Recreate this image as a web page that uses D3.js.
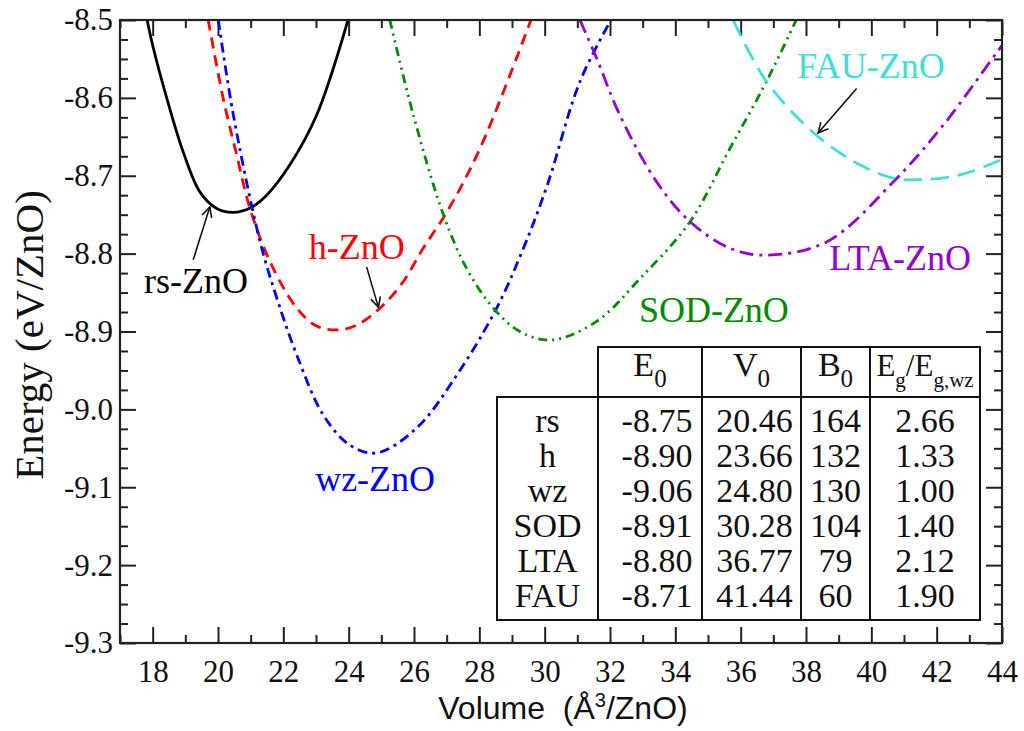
<!DOCTYPE html>
<html>
<head>
<meta charset="utf-8">
<script src="https://cdn.jsdelivr.net/npm/d3@7/dist/d3.min.js"></script>
<style>
  html, body { margin: 0; padding: 0; background: #fff; }
  svg { display: block; }
  text { font-family: "Liberation Serif", "Times New Roman", serif; }
</style>
</head>
<body>
<svg id="chart" width="1024" height="731"></svg>
<script>
// ---------- data ----------
const xTickValues = [18, 20, 22, 24, 26, 28, 30, 32, 34, 36, 38, 40, 42, 44];
const yTickValues = [-8.5, -8.6, -8.7, -8.8, -8.9, -9.0, -9.1, -9.2, -9.3];

// [Volume (Å^3/ZnO), Energy (eV/ZnO)]
const rsPoints = [[17.83,-8.50],[18.02,-8.536],[18.43,-8.600],[18.94,-8.670],[19.45,-8.721],[19.96,-8.742],[20.46,-8.747],[21.00,-8.741],[21.49,-8.725],[22.20,-8.686],[23.02,-8.622],[23.98,-8.50]];
const hPoints  = [[19.70,-8.50],[20.16,-8.601],[20.57,-8.673],[20.98,-8.742],[21.59,-8.810],[22.41,-8.870],[23.02,-8.893],[23.66,-8.898],[24.24,-8.892],[24.96,-8.870],[25.67,-8.836],[26.28,-8.793],[27.00,-8.747],[28.02,-8.665],[29.58,-8.50]];
const wzPoints = [[20.01,-8.50],[20.47,-8.622],[21.29,-8.785],[21.80,-8.857],[22.41,-8.930],[23.22,-9.007],[24.04,-9.046],[24.85,-9.056],[26.08,-9.024],[27.31,-8.956],[28.53,-8.870],[29.35,-8.793],[30.08,-8.712],[31.08,-8.579],[32.03,-8.50]];
const sodPoints = [[25.26,-8.50],[25.98,-8.622],[26.90,-8.750],[27.61,-8.819],[28.43,-8.870],[29.24,-8.900],[30.20,-8.911],[31.59,-8.887],[32.92,-8.832],[34.45,-8.759],[35.67,-8.665],[36.79,-8.579],[37.70,-8.50]];
const ltaPoints = [[31.08,-8.50],[31.59,-8.549],[32.30,-8.622],[33.43,-8.708],[34.45,-8.759],[35.67,-8.793],[36.77,-8.802],[38.63,-8.785],[40.67,-8.708],[42.20,-8.635],[43.94,-8.536],[44.00,-8.533]];
const fauPoints = [[35.77,-8.50],[36.79,-8.579],[38.32,-8.648],[39.65,-8.686],[40.67,-8.703],[41.49,-8.705],[42.71,-8.699],[43.83,-8.682],[44.00,-8.679]];

const seriesNames = ["rs-ZnO", "h-ZnO", "wz-ZnO", "SOD-ZnO", "LTA-ZnO", "FAU-ZnO"];
const seriesPoints = [rsPoints, hPoints, wzPoints, sodPoints, ltaPoints, fauPoints];
const seriesColors = ["#000000", "#ff0000", "#0000ff", "#008b00", "#9400d3", "#40e0d0"];
const seriesDash = ["none", "11,7", "10,5,3,5", "9,5,2,5,2,5", "14,6,3,6", "18,9"];
// label anchor positions (data coords)
const labelPos = [[19.33,-8.851],[24.25,-8.807],[24.81,-9.105],[35.18,-8.888],[40.88,-8.821],[39.99,-8.574]];
// arrows: [tailV, tailE, headV, headE]
const arrows = [[19.24,-8.808,19.75,-8.740],[24.55,-8.817,24.91,-8.869],[39.55,-8.588,38.37,-8.645]];

// table
const tableRows = ["rs", "h", "wz", "SOD", "LTA", "FAU"];
const tableE0 = ["-8.75", "-8.90", "-9.06", "-8.91", "-8.80", "-8.71"];
const tableV0 = ["20.46", "23.66", "24.80", "30.28", "36.77", "41.44"];
const tableB0 = ["164", "132", "130", "104", "79", "60"];
const tableEg = ["2.66", "1.33", "1.00", "1.40", "2.12", "1.90"];

// ---------- layout ----------
const svg = d3.select("#chart");
const plot = { left: 120, right: 1002, top: 20, bottom: 643 };
const x = d3.scaleLinear().domain([17, 44]).range([plot.left, plot.right]);
const y = d3.scaleLinear().domain([-9.3, -8.5]).range([plot.bottom, plot.top]);

svg.append("defs").append("clipPath").attr("id", "clip")
  .append("rect").attr("x", plot.left).attr("y", plot.top)
  .attr("width", plot.right - plot.left).attr("height", plot.bottom - plot.top);

const axisColor = "#222";
const majorLen = 16, minorLen = 8;
const xMinor = d3.range(17, 44.01, 1).filter(v => v % 2 !== 0);
const yMinor = d3.range(0, 33).map(i => -9.3 + i * 0.025).filter((v, i) => i % 4 !== 0);
const fmtY = d => d.toFixed(1);

function styleAxis(g) {
  g.select(".domain").remove();
  g.selectAll(".tick line").attr("stroke", axisColor).attr("stroke-width", 2);
  g.selectAll(".tick text").attr("fill", "#111").style("font-family", '"Liberation Serif", serif').style("font-size", "31px");
}

// bottom
svg.append("g").attr("transform", `translate(0,${plot.bottom})`)
  .call(d3.axisBottom(x).tickValues(xTickValues).tickSize(-majorLen).tickPadding(9).tickFormat(d3.format("d")))
  .call(styleAxis).selectAll(".tick text").attr("dy", "0.97em");
svg.append("g").attr("transform", `translate(0,${plot.bottom})`)
  .call(d3.axisBottom(x).tickValues(xMinor).tickSize(-minorLen).tickFormat(""))
  .call(styleAxis);
// top
svg.append("g").attr("transform", `translate(0,${plot.top})`)
  .call(d3.axisTop(x).tickValues(xTickValues).tickSize(-majorLen).tickFormat(""))
  .call(styleAxis);
svg.append("g").attr("transform", `translate(0,${plot.top})`)
  .call(d3.axisTop(x).tickValues(xMinor).tickSize(-minorLen).tickFormat(""))
  .call(styleAxis);
// left
svg.append("g").attr("transform", `translate(${plot.left},0)`)
  .call(d3.axisLeft(y).tickValues(yTickValues).tickSize(-majorLen).tickPadding(7).tickFormat(fmtY))
  .call(styleAxis);
svg.append("g").attr("transform", `translate(${plot.left},0)`)
  .call(d3.axisLeft(y).tickValues(yMinor).tickSize(-minorLen).tickFormat(""))
  .call(styleAxis);
// right
svg.append("g").attr("transform", `translate(${plot.right},0)`)
  .call(d3.axisRight(y).tickValues(yTickValues).tickSize(-majorLen).tickFormat(""))
  .call(styleAxis);
svg.append("g").attr("transform", `translate(${plot.right},0)`)
  .call(d3.axisRight(y).tickValues(yMinor).tickSize(-minorLen).tickFormat(""))
  .call(styleAxis);

// curves
const line = d3.line().x(d => x(d[0])).y(d => y(d[1])).curve(d3.curveCatmullRom.alpha(0.5));
const curves = svg.append("g").attr("clip-path", "url(#clip)");
seriesPoints.forEach((pts, i) => {
  curves.append("path").datum(pts)
    .attr("d", line)
    .attr("fill", "none")
    .attr("stroke", seriesColors[i])
    .attr("stroke-width", 2.8)
    .attr("stroke-dasharray", seriesDash[i]);
});

// frame
svg.append("rect").attr("x", plot.left).attr("y", plot.top)
  .attr("width", plot.right - plot.left).attr("height", plot.bottom - plot.top)
  .attr("fill", "none").attr("stroke", axisColor).attr("stroke-width", 2.2);

// arrows
svg.select("defs").append("marker").attr("id", "arrowhead")
  .attr("viewBox", "0 0 12 12").attr("refX", 11).attr("refY", 6)
  .attr("markerWidth", 12).attr("markerHeight", 12).attr("markerUnits", "userSpaceOnUse")
  .attr("orient", "auto")
  .append("path").attr("d", "M1,1 L11,6 L1,11").attr("fill", "none").attr("stroke", "#111").attr("stroke-width", 1.6);
arrows.forEach(a => {
  svg.append("line")
    .attr("x1", x(a[0])).attr("y1", y(a[1])).attr("x2", x(a[2])).attr("y2", y(a[3]))
    .attr("stroke", "#111").attr("stroke-width", 1.6).attr("marker-end", "url(#arrowhead)");
});

// curve labels
seriesNames.forEach((name, i) => {
  svg.append("text").attr("x", x(labelPos[i][0])).attr("y", y(labelPos[i][1]))
    .attr("text-anchor", "middle").attr("fill", seriesColors[i])
    .style("font-size", "36px").text(name);
});

// table
const colEdges = [497, 598, 702, 801, 870, 980];
const tTop = 347, tHead = 397, tBottom = 620;
const tg = svg.append("g");
function tline(x1, y1, x2, y2) {
  tg.append("line").attr("x1", x1).attr("y1", y1).attr("x2", x2).attr("y2", y2)
    .attr("stroke", "#111").attr("stroke-width", 2).attr("stroke-linecap", "square");
}
tg.append("rect").attr("x", colEdges[0]).attr("y", tHead).attr("width", colEdges[5] - colEdges[0]).attr("height", tBottom - tHead).attr("fill", "#fff");
tg.append("rect").attr("x", colEdges[1]).attr("y", tTop).attr("width", colEdges[5] - colEdges[1]).attr("height", tHead - tTop).attr("fill", "#fff");
tline(colEdges[1], tTop, colEdges[5], tTop);
tline(colEdges[0], tHead, colEdges[5], tHead);
tline(colEdges[0], tBottom, colEdges[5], tBottom);
tline(colEdges[0], tHead, colEdges[0], tBottom);
for (let c = 1; c < 6; c++) tline(colEdges[c], tTop, colEdges[c], tBottom);

const rowBase0 = 432, rowPitch = 35;
const tableCols = [tableRows, tableE0, tableV0, tableB0, tableEg];
const colShift = [0, 7, 3, 0, 0];
tableCols.forEach((col, c) => {
  const cx = (colEdges[c] + colEdges[c + 1]) / 2 + colShift[c];
  col.forEach((v, r) => {
    tg.append("text").attr("x", cx).attr("y", rowBase0 + r * rowPitch)
      .attr("text-anchor", "middle").attr("fill", "#111").style("font-size", "34px").text(v);
  });
});
// header
const headers = [["E", "0", "", ""], ["V", "0", "", ""], ["B", "0", "", ""], ["E", "g", "/E", "g,wz"]];
headers.forEach((h, i) => {
  const cx = (colEdges[i + 1] + colEdges[i + 2]) / 2;
  const t = tg.append("text").attr("x", cx).attr("y", 376).attr("text-anchor", "middle")
    .attr("fill", "#111").style("font-size", i === 3 ? "31px" : "34px");
  t.append("tspan").text(h[0]);
  t.append("tspan").attr("dy", 11).style("font-size", i === 3 ? "21px" : "25px").text(h[1]);
  if (h[2]) {
    t.append("tspan").attr("dy", -11).text(h[2]);
    t.append("tspan").attr("dy", 11).style("font-size", "21px").text(h[3]);
  }
});

// axis titles
svg.append("text")
  .attr("transform", `translate(43,335) rotate(-90)`)
  .attr("text-anchor", "middle").attr("fill", "#111")
  .style("font-size", "41px").text("Energy (eV/ZnO)");

const xt = svg.append("text").attr("x", 563).attr("y", 719).attr("text-anchor", "middle")
  .attr("fill", "#111").style("font-family", '"Liberation Sans", Arial, sans-serif')
  .style("font-size", "32px").style("white-space", "pre");
xt.append("tspan").text("Volume  (Å");
xt.append("tspan").attr("dy", -12).style("font-size", "20px").text("3");
xt.append("tspan").attr("dy", 12).text("/ZnO)");
</script>
</body>
</html>
